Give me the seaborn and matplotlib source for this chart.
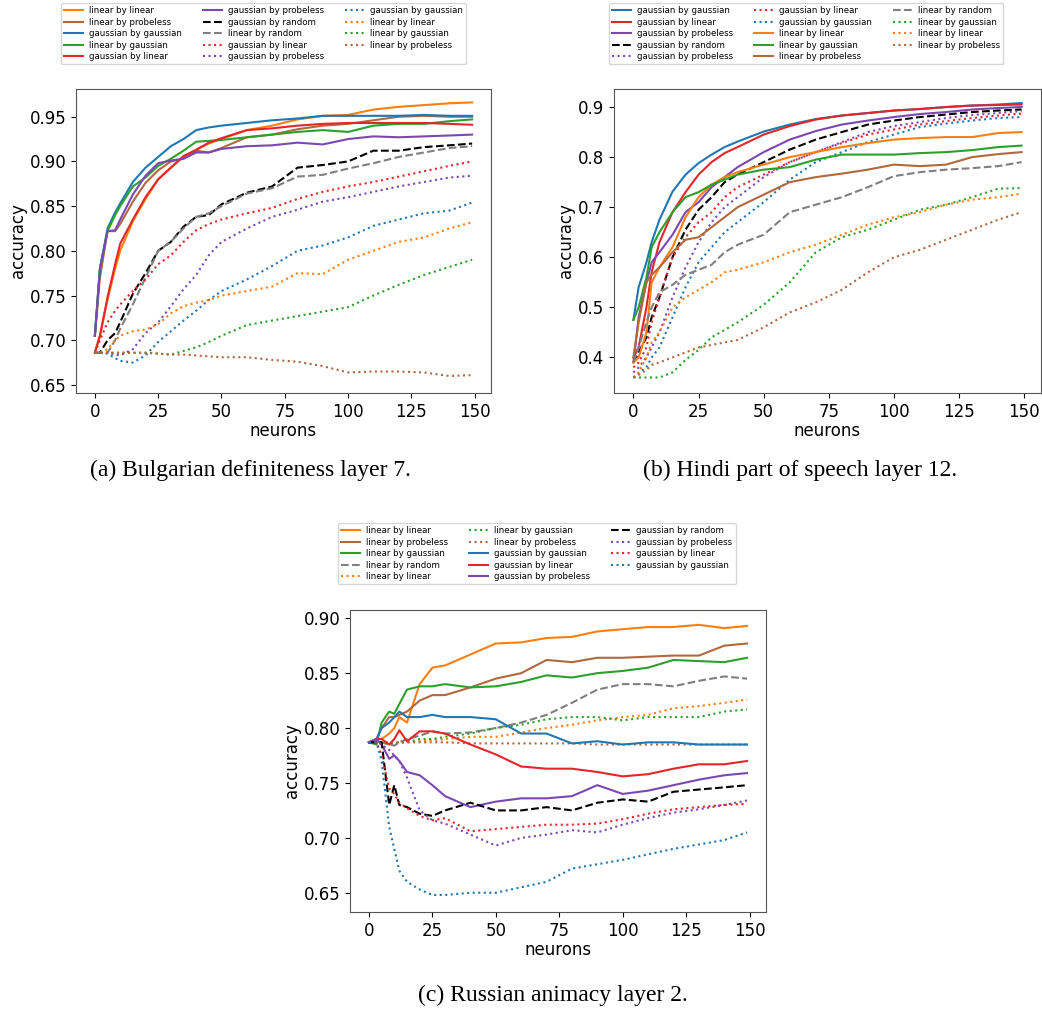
import matplotlib
matplotlib.use("Agg")
import matplotlib.pyplot as plt
import seaborn as sns

# neuron grid that each panel's values were read at
neurons_a = [0, 2, 5, 8, 10, 15, 20, 25, 30, 35, 40, 45, 50, 60, 70, 80, 90, 100, 110, 120, 130, 140, 149]
neurons_b = [0, 2, 5, 7, 10, 15, 20, 25, 30, 35, 40, 50, 60, 70, 80, 90, 100, 110, 120, 130, 140, 149]
neurons_c = [0, 3, 5, 8, 10, 12, 15, 20, 25, 30, 40, 50, 60, 70, 80, 90, 100, 110, 120, 130, 140, 149]

# (a) Bulgarian definiteness layer 7
bg_lin_lin = [0.686, 0.705, 0.745, 0.78, 0.80, 0.833, 0.858, 0.88, 0.893, 0.905, 0.913, 0.92, 0.925, 0.935, 0.94, 0.947, 0.951, 0.952, 0.958, 0.961, 0.963, 0.965, 0.966]
bg_lin_prob = [0.705, 0.77, 0.822, 0.822, 0.83, 0.855, 0.876, 0.89, 0.90, 0.903, 0.912, 0.91, 0.915, 0.927, 0.93, 0.936, 0.94, 0.942, 0.946, 0.95, 0.951, 0.95, 0.95]
bg_gau_gau = [0.705, 0.78, 0.825, 0.843, 0.853, 0.877, 0.893, 0.905, 0.917, 0.925, 0.935, 0.938, 0.94, 0.943, 0.946, 0.948, 0.951, 0.951, 0.951, 0.951, 0.952, 0.951, 0.951]
bg_lin_gau = [0.705, 0.78, 0.822, 0.84, 0.85, 0.872, 0.882, 0.895, 0.903, 0.912, 0.922, 0.923, 0.924, 0.927, 0.93, 0.933, 0.935, 0.933, 0.94, 0.942, 0.942, 0.945, 0.947]
bg_gau_lin = [0.686, 0.705, 0.748, 0.785, 0.808, 0.835, 0.86, 0.88, 0.893, 0.906, 0.913, 0.921, 0.926, 0.935, 0.937, 0.94, 0.942, 0.943, 0.943, 0.943, 0.943, 0.942, 0.941]
bg_gau_prob = [0.705, 0.78, 0.822, 0.823, 0.835, 0.863, 0.884, 0.898, 0.901, 0.903, 0.91, 0.91, 0.914, 0.917, 0.918, 0.921, 0.919, 0.925, 0.928, 0.927, 0.928, 0.929, 0.93]
bg_gau_rand = [0.686, 0.686, 0.70, 0.708, 0.72, 0.752, 0.775, 0.80, 0.81, 0.827, 0.838, 0.84, 0.852, 0.865, 0.872, 0.893, 0.896, 0.90, 0.912, 0.912, 0.916, 0.918, 0.92]
bg_lin_rand = [0.686, 0.686, 0.686, 0.70, 0.713, 0.74, 0.77, 0.80, 0.81, 0.825, 0.838, 0.842, 0.85, 0.864, 0.87, 0.883, 0.885, 0.892, 0.898, 0.905, 0.91, 0.915, 0.917]
bg_gau_lin_r = [0.686, 0.70, 0.72, 0.733, 0.74, 0.755, 0.768, 0.785, 0.795, 0.81, 0.823, 0.83, 0.835, 0.842, 0.848, 0.858, 0.866, 0.872, 0.877, 0.883, 0.889, 0.895, 0.90]
bg_gau_prob_r = [0.686, 0.686, 0.686, 0.684, 0.683, 0.69, 0.708, 0.72, 0.738, 0.757, 0.773, 0.795, 0.81, 0.825, 0.838, 0.846, 0.855, 0.86, 0.866, 0.872, 0.877, 0.882, 0.884]
bg_gau_gau_r = [0.686, 0.686, 0.685, 0.68, 0.677, 0.675, 0.683, 0.698, 0.71, 0.722, 0.733, 0.745, 0.755, 0.768, 0.783, 0.80, 0.806, 0.815, 0.828, 0.835, 0.842, 0.845, 0.854]
bg_lin_lin_r = [0.686, 0.686, 0.69, 0.70, 0.705, 0.71, 0.712, 0.718, 0.73, 0.738, 0.742, 0.745, 0.75, 0.755, 0.76, 0.775, 0.774, 0.79, 0.80, 0.81, 0.815, 0.825, 0.832]
bg_lin_gau_r = [0.686, 0.686, 0.686, 0.686, 0.686, 0.686, 0.686, 0.685, 0.684, 0.688, 0.692, 0.698, 0.705, 0.717, 0.722, 0.727, 0.732, 0.737, 0.75, 0.762, 0.773, 0.782, 0.79]
bg_lin_prob_r = [0.686, 0.686, 0.686, 0.686, 0.686, 0.686, 0.686, 0.685, 0.684, 0.684, 0.683, 0.682, 0.681, 0.681, 0.678, 0.676, 0.671, 0.664, 0.665, 0.665, 0.664, 0.66, 0.661]

# (b) Hindi part of speech layer 12
hi_gau_gau = [0.475, 0.54, 0.59, 0.63, 0.675, 0.731, 0.765, 0.788, 0.805, 0.82, 0.831, 0.851, 0.865, 0.876, 0.883, 0.888, 0.893, 0.896, 0.90, 0.903, 0.905, 0.908]
hi_gau_lin = [0.40, 0.42, 0.50, 0.57, 0.63, 0.69, 0.73, 0.765, 0.79, 0.808, 0.82, 0.845, 0.862, 0.875, 0.883, 0.888, 0.893, 0.896, 0.90, 0.903, 0.904, 0.905]
hi_gau_prob = [0.39, 0.48, 0.55, 0.59, 0.61, 0.645, 0.69, 0.71, 0.74, 0.76, 0.78, 0.81, 0.835, 0.852, 0.865, 0.873, 0.88, 0.886, 0.89, 0.895, 0.898, 0.90]
hi_gau_rand = [0.39, 0.41, 0.44, 0.48, 0.52, 0.60, 0.655, 0.695, 0.72, 0.75, 0.765, 0.79, 0.815, 0.835, 0.85, 0.865, 0.873, 0.88, 0.885, 0.89, 0.893, 0.895]
hi_gau_prob_r = [0.37, 0.38, 0.40, 0.42, 0.45, 0.52, 0.58, 0.63, 0.67, 0.70, 0.72, 0.76, 0.79, 0.81, 0.83, 0.85, 0.862, 0.87, 0.878, 0.884, 0.888, 0.892]
hi_gau_lin_r = [0.38, 0.39, 0.42, 0.47, 0.52, 0.60, 0.64, 0.67, 0.69, 0.72, 0.74, 0.765, 0.79, 0.81, 0.828, 0.845, 0.855, 0.865, 0.872, 0.878, 0.883, 0.887]
hi_gau_gau_r = [0.36, 0.37, 0.38, 0.40, 0.42, 0.48, 0.54, 0.59, 0.62, 0.65, 0.67, 0.71, 0.755, 0.79, 0.81, 0.83, 0.845, 0.86, 0.867, 0.873, 0.878, 0.88]
hi_lin_lin = [0.39, 0.40, 0.45, 0.55, 0.58, 0.62, 0.68, 0.72, 0.745, 0.76, 0.77, 0.785, 0.80, 0.81, 0.82, 0.828, 0.835, 0.838, 0.84, 0.84, 0.848, 0.85]
hi_lin_gau = [0.475, 0.50, 0.56, 0.62, 0.65, 0.69, 0.72, 0.73, 0.745, 0.755, 0.765, 0.775, 0.78, 0.795, 0.805, 0.805, 0.805, 0.808, 0.81, 0.814, 0.82, 0.823]
hi_lin_prob = [0.40, 0.47, 0.55, 0.565, 0.58, 0.61, 0.635, 0.64, 0.66, 0.68, 0.70, 0.725, 0.75, 0.76, 0.767, 0.775, 0.785, 0.782, 0.785, 0.80, 0.806, 0.81]
hi_lin_rand = [0.39, 0.42, 0.47, 0.50, 0.53, 0.545, 0.565, 0.575, 0.585, 0.61, 0.625, 0.645, 0.69, 0.705, 0.72, 0.74, 0.762, 0.77, 0.775, 0.778, 0.782, 0.79]
hi_lin_gau_r = [0.36, 0.36, 0.36, 0.36, 0.36, 0.37, 0.395, 0.415, 0.44, 0.455, 0.47, 0.505, 0.55, 0.61, 0.64, 0.655, 0.675, 0.695, 0.705, 0.72, 0.737, 0.738]
hi_lin_lin_r = [0.36, 0.37, 0.40, 0.43, 0.45, 0.50, 0.52, 0.535, 0.55, 0.57, 0.575, 0.59, 0.61, 0.625, 0.645, 0.665, 0.68, 0.69, 0.705, 0.715, 0.72, 0.727]
hi_lin_prob_r = [0.36, 0.365, 0.375, 0.385, 0.39, 0.40, 0.41, 0.42, 0.425, 0.43, 0.435, 0.46, 0.49, 0.51, 0.535, 0.57, 0.60, 0.615, 0.635, 0.655, 0.675, 0.69]

# (c) Russian animacy layer 2
ru_lin_lin = [0.787, 0.79, 0.79, 0.795, 0.80, 0.81, 0.805, 0.84, 0.855, 0.857, 0.867, 0.877, 0.878, 0.882, 0.883, 0.888, 0.89, 0.892, 0.892, 0.894, 0.891, 0.893]
ru_lin_prob = [0.787, 0.79, 0.80, 0.81, 0.81, 0.812, 0.815, 0.825, 0.83, 0.83, 0.837, 0.845, 0.85, 0.862, 0.86, 0.864, 0.864, 0.865, 0.866, 0.866, 0.875, 0.877]
ru_lin_gau = [0.787, 0.785, 0.805, 0.815, 0.813, 0.822, 0.835, 0.838, 0.838, 0.84, 0.837, 0.838, 0.842, 0.848, 0.846, 0.85, 0.852, 0.855, 0.862, 0.861, 0.86, 0.864]
ru_lin_rand = [0.787, 0.787, 0.787, 0.785, 0.784, 0.787, 0.79, 0.793, 0.797, 0.795, 0.796, 0.80, 0.805, 0.812, 0.823, 0.835, 0.84, 0.84, 0.838, 0.843, 0.847, 0.845]
ru_lin_lin_r = [0.787, 0.787, 0.787, 0.787, 0.787, 0.787, 0.787, 0.788, 0.789, 0.79, 0.792, 0.792, 0.796, 0.80, 0.803, 0.807, 0.81, 0.812, 0.818, 0.82, 0.823, 0.826]
ru_lin_gau_r = [0.787, 0.787, 0.786, 0.786, 0.786, 0.787, 0.787, 0.79, 0.79, 0.792, 0.795, 0.80, 0.803, 0.808, 0.81, 0.81, 0.807, 0.81, 0.81, 0.81, 0.815, 0.817]
ru_lin_prob_r = [0.787, 0.787, 0.787, 0.787, 0.787, 0.787, 0.787, 0.787, 0.787, 0.787, 0.786, 0.786, 0.786, 0.786, 0.786, 0.785, 0.785, 0.785, 0.785, 0.785, 0.785, 0.785]
ru_gau_gau = [0.787, 0.79, 0.80, 0.805, 0.81, 0.815, 0.81, 0.81, 0.812, 0.81, 0.81, 0.808, 0.795, 0.795, 0.786, 0.788, 0.785, 0.787, 0.787, 0.785, 0.785, 0.785]
ru_gau_lin = [0.787, 0.79, 0.79, 0.785, 0.79, 0.798, 0.788, 0.797, 0.797, 0.795, 0.785, 0.776, 0.765, 0.763, 0.763, 0.76, 0.756, 0.758, 0.763, 0.767, 0.767, 0.77]
ru_gau_prob = [0.787, 0.79, 0.785, 0.772, 0.775, 0.77, 0.76, 0.757, 0.748, 0.738, 0.728, 0.733, 0.736, 0.736, 0.738, 0.748, 0.74, 0.743, 0.748, 0.753, 0.757, 0.759]
ru_gau_rand = [0.787, 0.787, 0.787, 0.73, 0.748, 0.73, 0.728, 0.722, 0.72, 0.725, 0.732, 0.725, 0.725, 0.728, 0.725, 0.732, 0.735, 0.733, 0.742, 0.744, 0.746, 0.748]
ru_gau_prob_r = [0.787, 0.788, 0.785, 0.78, 0.775, 0.77, 0.755, 0.725, 0.716, 0.713, 0.703, 0.693, 0.70, 0.703, 0.707, 0.705, 0.712, 0.718, 0.723, 0.726, 0.73, 0.734]
ru_gau_lin_r = [0.787, 0.787, 0.775, 0.745, 0.74, 0.732, 0.727, 0.72, 0.716, 0.718, 0.706, 0.708, 0.71, 0.712, 0.712, 0.713, 0.717, 0.722, 0.726, 0.728, 0.73, 0.731]
ru_gau_gau_r = [0.787, 0.787, 0.77, 0.71, 0.69, 0.67, 0.66, 0.653, 0.648, 0.648, 0.65, 0.65, 0.655, 0.66, 0.672, 0.676, 0.68, 0.685, 0.69, 0.694, 0.698, 0.705]

captions = ["(a) Bulgarian definiteness layer 7.",
            "(b) Hindi part of speech layer 12.",
            "(c) Russian animacy layer 2."]

colors = {"linear by linear": "#ff7f0e", "linear by probeless": "#b0683f",
          "linear by gaussian": "#2ca02c", "linear by random": "#7f7f7f",
          "gaussian by gaussian": "#1f77b4", "gaussian by linear": "#e4262b",
          "gaussian by probeless": "#7b48b3", "gaussian by random": "black"}

panel_a = [("linear by linear", "-", bg_lin_lin), ("linear by probeless", "-", bg_lin_prob),
           ("gaussian by gaussian", "-", bg_gau_gau), ("linear by gaussian", "-", bg_lin_gau),
           ("gaussian by linear", "-", bg_gau_lin), ("gaussian by probeless", "-", bg_gau_prob),
           ("gaussian by random", "--", bg_gau_rand), ("linear by random", "--", bg_lin_rand),
           ("gaussian by linear", ":", bg_gau_lin_r), ("gaussian by probeless", ":", bg_gau_prob_r),
           ("gaussian by gaussian", ":", bg_gau_gau_r), ("linear by linear", ":", bg_lin_lin_r),
           ("linear by gaussian", ":", bg_lin_gau_r), ("linear by probeless", ":", bg_lin_prob_r)]
panel_b = [("gaussian by gaussian", "-", hi_gau_gau), ("gaussian by linear", "-", hi_gau_lin),
           ("gaussian by probeless", "-", hi_gau_prob), ("gaussian by random", "--", hi_gau_rand),
           ("gaussian by probeless", ":", hi_gau_prob_r), ("gaussian by linear", ":", hi_gau_lin_r),
           ("gaussian by gaussian", ":", hi_gau_gau_r), ("linear by linear", "-", hi_lin_lin),
           ("linear by gaussian", "-", hi_lin_gau), ("linear by probeless", "-", hi_lin_prob),
           ("linear by random", "--", hi_lin_rand), ("linear by gaussian", ":", hi_lin_gau_r),
           ("linear by linear", ":", hi_lin_lin_r), ("linear by probeless", ":", hi_lin_prob_r)]
panel_c = [("linear by linear", "-", ru_lin_lin), ("linear by probeless", "-", ru_lin_prob),
           ("linear by gaussian", "-", ru_lin_gau), ("linear by random", "--", ru_lin_rand),
           ("linear by linear", ":", ru_lin_lin_r), ("linear by gaussian", ":", ru_lin_gau_r),
           ("linear by probeless", ":", ru_lin_prob_r), ("gaussian by gaussian", "-", ru_gau_gau),
           ("gaussian by linear", "-", ru_gau_lin), ("gaussian by probeless", "-", ru_gau_prob),
           ("gaussian by random", "--", ru_gau_rand), ("gaussian by probeless", ":", ru_gau_prob_r),
           ("gaussian by linear", ":", ru_gau_lin_r), ("gaussian by gaussian", ":", ru_gau_gau_r)]

W, H = 1042, 1009
fig = plt.figure(figsize=(W / 100, H / 100), dpi=100)


def box(x0, y0, x1, y1):
    return [x0 / W, 1 - y1 / H, (x1 - x0) / W, (y1 - y0) / H]


panels = [
    (panel_a, neurons_a, box(76, 89, 491, 393), (61, 3), (250, 470), (0.641, 0.981), [0.65, 0.70, 0.75, 0.80, 0.85, 0.90, 0.95], "%.2f"),
    (panel_b, neurons_b, box(614, 89, 1041, 393), (609, 3), (800, 470), (0.329, 0.936), [0.4, 0.5, 0.6, 0.7, 0.8, 0.9], "%.1f"),
    (panel_c, neurons_c, box(350, 610, 766, 912), (338, 523), (553, 995), (0.6325, 0.9075), [0.65, 0.70, 0.75, 0.80, 0.85, 0.90], "%.2f"),
]

for i, (series, xs, pos, leg_xy, cap_xy, ylim, yticks, fmt) in enumerate(panels):
    ax = fig.add_axes(pos)
    for label, ls, vals in series:
        sns.lineplot(x=xs, y=vals, ax=ax, color=colors[label], linestyle=ls,
                     linewidth=1.5, label=label, legend=False)
    ax.set_xlim(-7.45, 156.45)
    ax.set_ylim(*ylim)
    ax.set_xticks([0, 25, 50, 75, 100, 125, 150])
    ax.set_yticks(yticks)
    ax.set_yticklabels([fmt % t for t in yticks])
    ax.tick_params(labelsize=12)
    ax.set_xlabel("neurons", fontsize=12, labelpad=1)
    ax.set_ylabel("accuracy", fontsize=12, labelpad=2)
    for sp in ax.spines.values():
        sp.set_color("#555555")
    handles, labels = ax.get_legend_handles_labels()
    fig.legend(handles, labels, ncol=3, fontsize=6.2, loc="upper left",
               bbox_to_anchor=(leg_xy[0] / W, 1 - leg_xy[1] / H),
               borderaxespad=0, columnspacing=2.45, handlelength=2.2,
               handletextpad=0.7, labelspacing=0.3, borderpad=0.35,
               frameon=True, fancybox=True)
    fig.text(cap_xy[0] / W, 1 - cap_xy[1] / H, captions[i],
             ha="center", va="center", fontsize=17, family="Liberation Serif")

fig.savefig("out.png", dpi=100)
